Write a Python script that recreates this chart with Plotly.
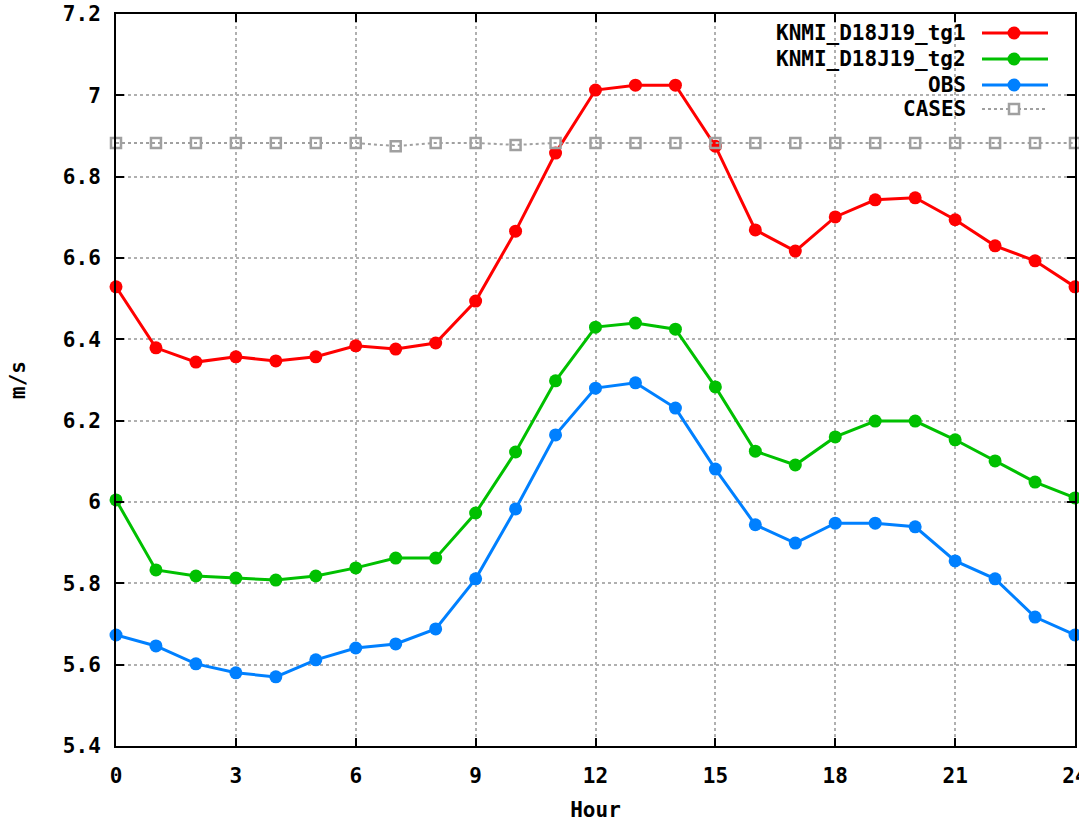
import plotly.graph_objects as go

hours = list(range(25))
tg1 = [6.529, 6.379, 6.344, 6.357, 6.347, 6.357, 6.384, 6.376, 6.391, 6.494, 6.666, 6.858, 7.013,
       7.025, 7.025, 6.875, 6.669, 6.617, 6.701, 6.743, 6.748, 6.694, 6.630, 6.593, 6.529]
tg2 = [6.005, 5.833, 5.818, 5.813, 5.808, 5.818, 5.838, 5.862, 5.862, 5.973, 6.123, 6.298, 6.430,
       6.440, 6.425, 6.283, 6.125, 6.091, 6.160, 6.199, 6.199, 6.153, 6.101, 6.049, 6.010]
obs = [5.673, 5.646, 5.602, 5.580, 5.570, 5.612, 5.641, 5.651, 5.688, 5.811, 5.983, 6.165, 6.280,
       6.293, 6.231, 6.081, 5.944, 5.899, 5.948, 5.948, 5.939, 5.855, 5.811, 5.717, 5.673]
cases = [6.883, 6.883, 6.883, 6.883, 6.883, 6.883, 6.883, 6.875, 6.883, 6.883, 6.878, 6.883, 6.883,
         6.883, 6.883, 6.883, 6.883, 6.883, 6.883, 6.883, 6.883, 6.883, 6.883, 6.883, 6.883]
names = ["KNMI_D18J19_tg1", "KNMI_D18J19_tg2", "OBS", "CASES"]
colors = ["#ff0000", "#00c000", "#0080ff", "#a0a0a0"]
x_ticks = [0, 3, 6, 9, 12, 15, 18, 21, 24]
y_ticks = [5.4, 5.6, 5.8, 6.0, 6.2, 6.4, 6.6, 6.8, 7.0, 7.2]
y_labels = ["5.4", "5.6", "5.8", "6", "6.2", "6.4", "6.6", "6.8", "7", "7.2"]

FONT = "DejaVu Sans Mono"
W, H = 1079, 822
L, R, T, B = 116, 1075, 14, 746

fig = go.Figure()
for name, vals, col in zip(names[:3], [tg1, tg2, obs], colors[:3]):
    fig.add_trace(go.Scatter(x=hours, y=vals, name=name, mode="lines+markers",
                             line=dict(color=col, width=3),
                             marker=dict(symbol="circle", size=13, color=col),
                             showlegend=False, cliponaxis=False))
fig.add_trace(go.Scatter(x=hours, y=cases, name=names[3], mode="lines+markers",
                         line=dict(color=colors[3], width=2, dash="dot"),
                         marker=dict(symbol="square-open", size=10, color=colors[3],
                                     line=dict(width=2.5, color=colors[3])),
                         showlegend=False, cliponaxis=False))

def px2x(px):
    return (px - L) / (R - L)

def py2y(py):
    return (B - py) / (B - T)

shapes = []
annotations = []
rows = [33, 59, 85, 109]
for i, (name, col) in enumerate(zip(names, colors)):
    yy = py2y(rows[i])
    annotations.append(dict(text=name, xref="paper", yref="paper", x=px2x(968), y=yy,
                            xanchor="right", yanchor="middle", showarrow=False,
                            font=dict(family=FONT, size=21, color="black", weight="bold")))
    if i < 3:
        shapes.append(dict(type="line", xref="paper", yref="paper", x0=px2x(982), x1=px2x(1048),
                           y0=yy, y1=yy, line=dict(color=col, width=3)))
        shapes.append(dict(type="circle", xref="paper", yref="paper", xsizemode="pixel",
                           ysizemode="pixel", xanchor=px2x(1014), yanchor=yy,
                           x0=-6.5, x1=6.5, y0=-6.5, y1=6.5, fillcolor=col,
                           line=dict(color=col, width=0)))
    else:
        shapes.append(dict(type="line", xref="paper", yref="paper", x0=px2x(982), x1=px2x(1048),
                           y0=yy, y1=yy, line=dict(color=col, width=2, dash="dot")))
        shapes.append(dict(type="rect", xref="paper", yref="paper", xsizemode="pixel",
                           ysizemode="pixel", xanchor=px2x(1014), yanchor=yy,
                           x0=-5, x1=5, y0=-5, y1=5, fillcolor="white",
                           line=dict(color=col, width=2.5)))

fig.update_layout(
    width=W, height=H,
    margin=dict(l=L, r=W - R, t=T, b=H - B, autoexpand=False),
    plot_bgcolor="white", paper_bgcolor="white",
    font=dict(family=FONT, size=21, color="black", weight="bold"),
    shapes=shapes, annotations=annotations,
    xaxis=dict(range=[0, 24], tickvals=x_ticks, ticktext=[str(v) for v in x_ticks],
               showgrid=True, gridcolor="#b0b0b0", griddash="dot", gridwidth=1.5,
               showline=True, linecolor="black", linewidth=2, mirror="ticks",
               ticks="inside", ticklen=8, tickwidth=2, tickcolor="black",
               ticklabelstandoff=10, ticklabeloverflow="allow", automargin=False,
               zeroline=False, title=dict(text="Hour", standoff=20,
                                          font=dict(family=FONT, size=21, weight="bold")),
               tickfont=dict(family=FONT, size=21, weight="bold")),
    yaxis=dict(range=[5.4, 7.2], tickvals=y_ticks, ticktext=y_labels,
               showgrid=True, gridcolor="#b0b0b0", griddash="dot", gridwidth=1.5,
               showline=True, linecolor="black", linewidth=2, mirror="ticks",
               ticks="inside", ticklen=8, tickwidth=2, tickcolor="black",
               ticklabelstandoff=9, ticklabeloverflow="allow", automargin=False,
               zeroline=False, title=dict(text="m/s", standoff=32,
                                          font=dict(family=FONT, size=21, weight="bold")),
               tickfont=dict(family=FONT, size=21, weight="bold")),
)

fig.write_html("out.html", config={"displayModeBar": False},
               post_script="document.body.style.margin='0';document.body.style.overflow='hidden';")
